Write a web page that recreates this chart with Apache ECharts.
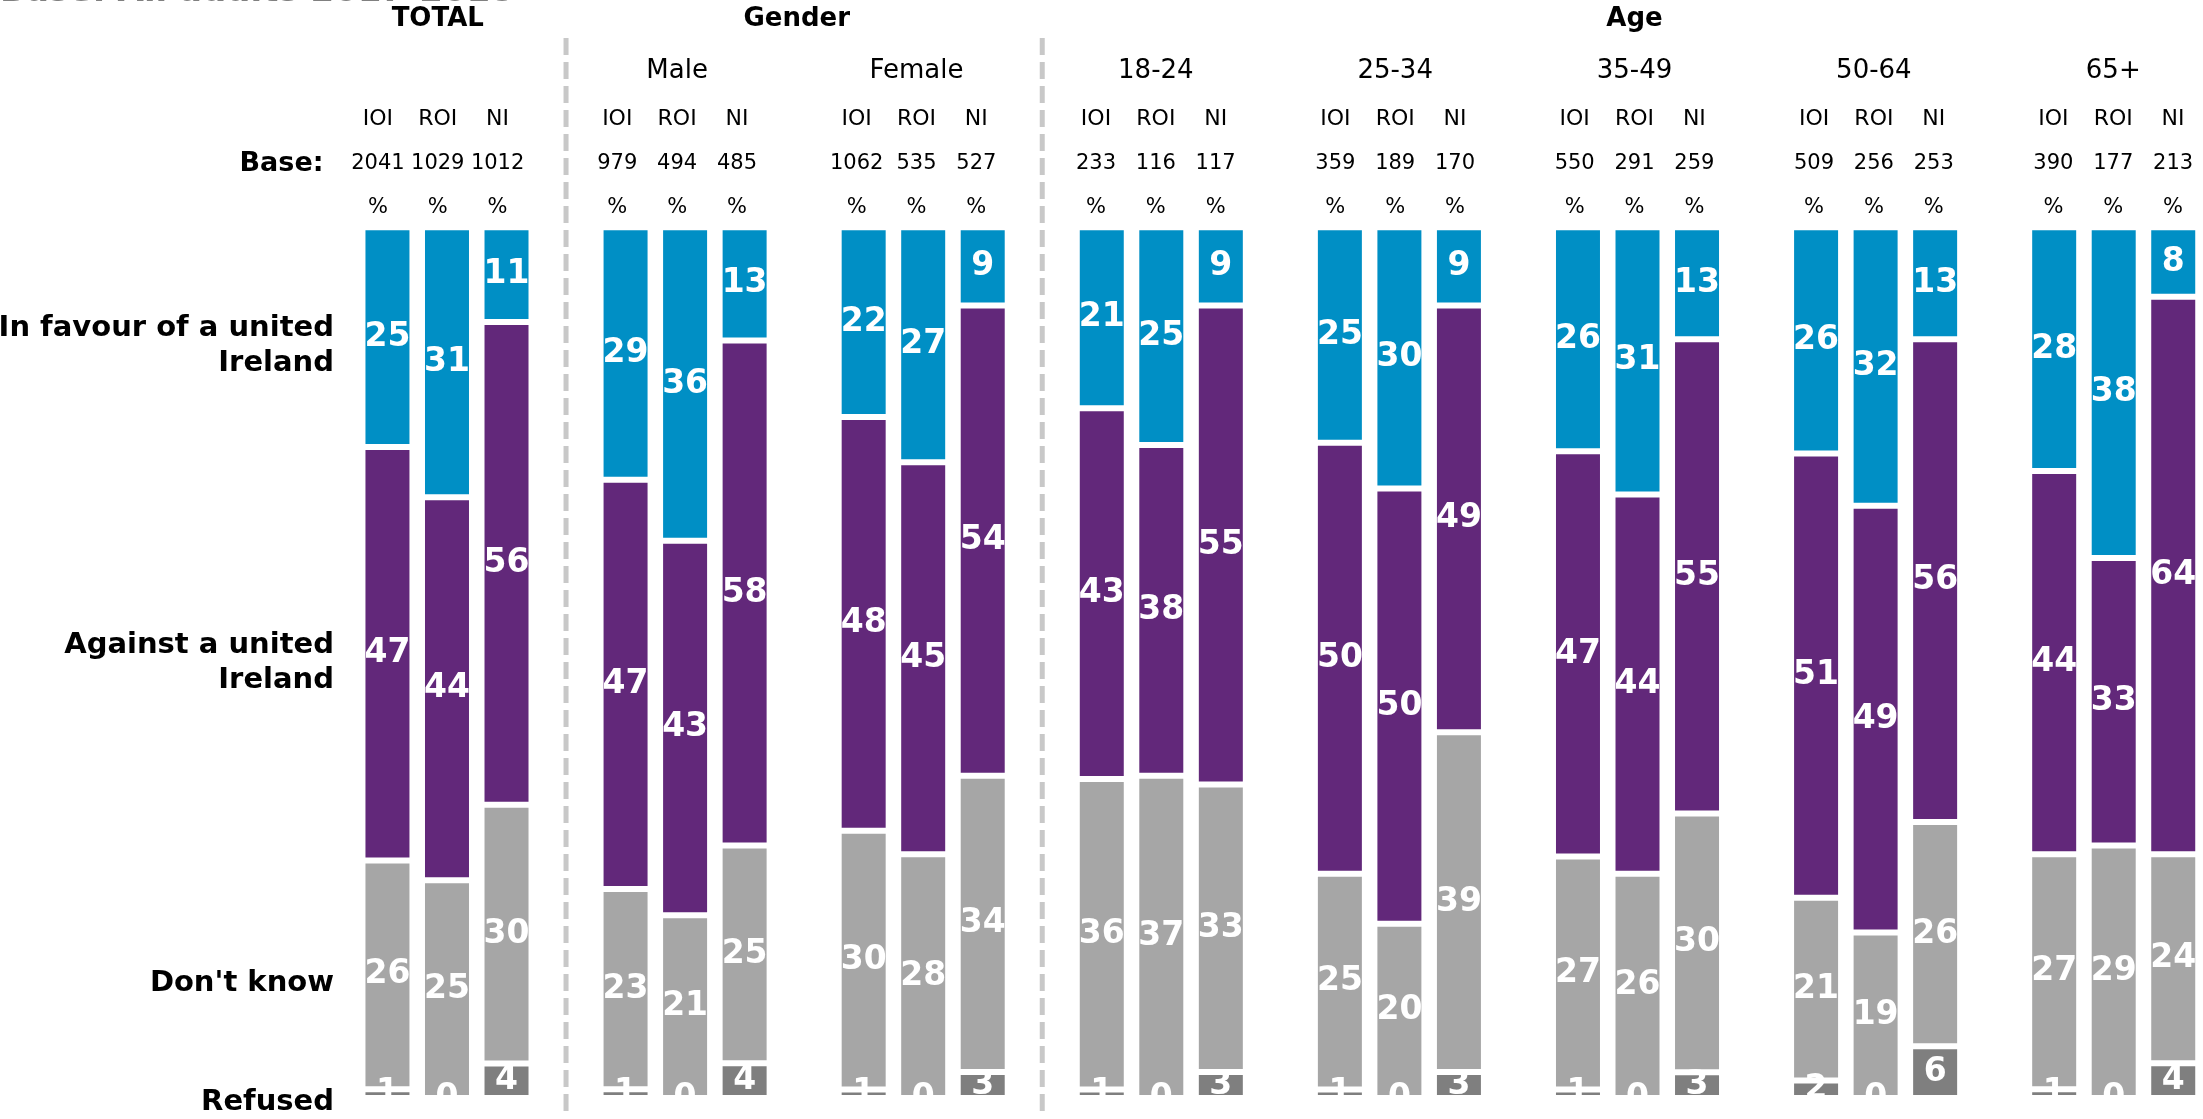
<!DOCTYPE html>
<html><head><meta charset="utf-8">
<script src="https://cdn.jsdelivr.net/npm/echarts@6/dist/echarts.min.js"></script>
<style>html,body{margin:0;padding:0;background:#fff}#c{width:2203px;height:1119px}</style>
</head><body><div id="c"></div><script>
// ---------------- data ----------------
const groups = ['TOTAL','Male','Female','18-24','25-34','35-49','50-64','65+'];
const groupLabels = ['','Male','Female','18-24','25-34','35-49','50-64','65+'];
const sectionNames = ['TOTAL','Gender','Age'];
const sectionFirstGroup = [0,1,3];
const sectionLastGroup = [0,2,7];
const regions = ['IOI','ROI','NI'];
const bases = [[2041,1029,1012],[979,494,485],[1062,535,527],[233,116,117],[359,189,170],[550,291,259],[509,256,253],[390,177,213]];
const favour   = [[25,31,11],[29,36,13],[22,27,9],[21,25,9],[25,30,9],[26,31,13],[26,32,13],[28,38,8]];
const against  = [[47,44,56],[47,43,58],[48,45,54],[43,38,55],[50,50,49],[47,44,55],[51,49,56],[44,33,64]];
const dontKnow = [[26,25,30],[23,21,25],[30,28,34],[36,37,33],[25,20,39],[27,26,30],[21,19,26],[27,29,24]];
const refused  = [[1,0,4],[1,0,4],[1,0,3],[1,0,3],[1,0,3],[1,0,3],[2,0,6],[1,0,4]];
const rowLabels = ['In favour of a united\nIreland','Against a united\nIreland',"Don't know",'Refused'];
const baseLabel = 'Base:';
const percentSign = '%';
const titleText = 'Base: All adults 2017-2018';

// ---------------- build ----------------
const FONT = '"DejaVu Sans", Verdana, sans-serif';
const categories = [];
groups.forEach((g, gi) => {
  regions.forEach(r => categories.push(g + ' ' + r));
  if (gi < groups.length - 1) categories.push('gap' + gi);
});
function slotIndex(gi, ri) { return gi * 4 + ri; }
function total(gi, ri) { return favour[gi][ri] + against[gi][ri] + dontKnow[gi][ri] + refused[gi][ri]; }
function seriesData(arr) {
  const out = [];
  groups.forEach((g, gi) => {
    regions.forEach((r, ri) => out.push({ value: arr[gi][ri] * 100 / total(gi, ri), raw: arr[gi][ri] }));
    if (gi < groups.length - 1) out.push('-');
  });
  return out;
}
const BW = 3;
const seriesDefs = [
  { name: 'Refused', data: refused, color: '#7F7F7F', label: rowLabels[3] },
  { name: "Don't know", data: dontKnow, color: '#A6A6A6', label: rowLabels[2] },
  { name: 'Against', data: against, color: '#62287A', label: rowLabels[1] },
  { name: 'In favour', data: favour, color: '#008FC5', label: rowLabels[0] }
];

const chart = echarts.init(document.getElementById('c'), null, { renderer: 'canvas' });
chart.setOption({
  animation: false,
  backgroundColor: '#fff',
  grid: [
    { left: 357.7, width: 1849.8, top: 228.7 - BW / 2, height: 867.8 + BW },
    { left: 348, width: 1861.9, top: 0, height: 10 }
  ],
  xAxis: [
    { type: 'category', gridIndex: 0, data: categories, show: false },
    { type: 'category', gridIndex: 1, data: categories, show: false }
  ],
  yAxis: [
    { type: 'value', gridIndex: 0, min: 0, max: 100, show: false },
    { type: 'value', gridIndex: 1, min: 0, max: 1, show: false }
  ],
  series: seriesDefs.map(s => ({
    type: 'bar', name: s.name, stack: 'all', xAxisIndex: 0, yAxisIndex: 0,
    barWidth: 47 + BW,
    data: seriesData(s.data),
    itemStyle: { color: s.color, borderColor: '#fff', borderWidth: BW },
    label: {
      show: true, position: 'inside', color: '#fff',
      fontFamily: FONT, fontWeight: 'bold', fontSize: 33,
      formatter: p => String(p.data.raw)
    },
    emphasis: { disabled: true },
    silent: true
  }))
});

// ---------------- text & decorations ----------------
const g = [];
function txt(x, y, text, font, align, extra) {
  const el = { type: 'text', x: x, y: y, z: 120,
    style: Object.assign({ text: text, font: font, fill: '#000',
      align: align, textAlign: align, verticalAlign: 'middle', textVerticalAlign: 'middle' }, extra || {}) };
  g.push(el);
}
function textX(idx) { return chart.convertToPixel({ gridIndex: 1 }, [idx, 0])[0]; }
function barPx(idx, v) { return chart.convertToPixel({ gridIndex: 0 }, [idx, v]); }

// clipped title at the very top
txt(0, -8, titleText, 'bold 34px ' + FONT, 'left', { fill: '#808080' });

// section titles
sectionNames.forEach((name, si) => {
  const a = textX(slotIndex(sectionFirstGroup[si], 1));
  const b = textX(slotIndex(sectionLastGroup[si], 1));
  txt((a + b) / 2, 19.5, name, 'bold 26px ' + FONT, 'center');
});
// group names, region row, base row, % row
groups.forEach((grp, gi) => {
  if (groupLabels[gi]) txt(textX(slotIndex(gi, 1)), 71, groupLabels[gi], '26px ' + FONT, 'center');
  regions.forEach((r, ri) => {
    const x = textX(slotIndex(gi, ri));
    txt(x, 119, r, '22px ' + FONT, 'center');
    txt(x, 164, String(bases[gi][ri]), '21px ' + FONT, 'center');
    txt(x, 208, percentSign, '21px ' + FONT, 'center');
  });
});
txt(323.5, 164, baseLabel, 'bold 27px ' + FONT, 'right');

// row labels aligned to TOTAL IOI segments
let cum = 0;
seriesDefs.forEach(s => {
  const v = s.data[0][0] * 100 / total(0, 0);
  const y = barPx(0, cum + v / 2)[1] + 9;
  cum += v;
  txt(334, y, s.label, 'bold 29px ' + FONT, 'right', { lineHeight: 35 });
});

// mask clipping the bar labels at the bar baseline
const zeroY = barPx(0, 0)[1] - BW / 2;
const leftX = barPx(0, 0)[0] - 40;
g.push({ type: 'rect', z: 100, shape: { x: leftX, y: zeroY, width: 2203 - leftX, height: 1119 - zeroY },
  style: { fill: '#fff' } });

// dashed separators between sections
sectionLastGroup.slice(0, -1).forEach(gl => {
  const x = barPx(gl * 4 + 3, 0)[0];
  g.push({ type: 'line', z: 110, shape: { x1: x, y1: 38, x2: x, y2: 1112 },
    style: { stroke: '#C8C8C8', lineWidth: 5, lineDash: [17, 7] } });
});

chart.setOption({ graphic: { elements: g } });
</script></body></html>
